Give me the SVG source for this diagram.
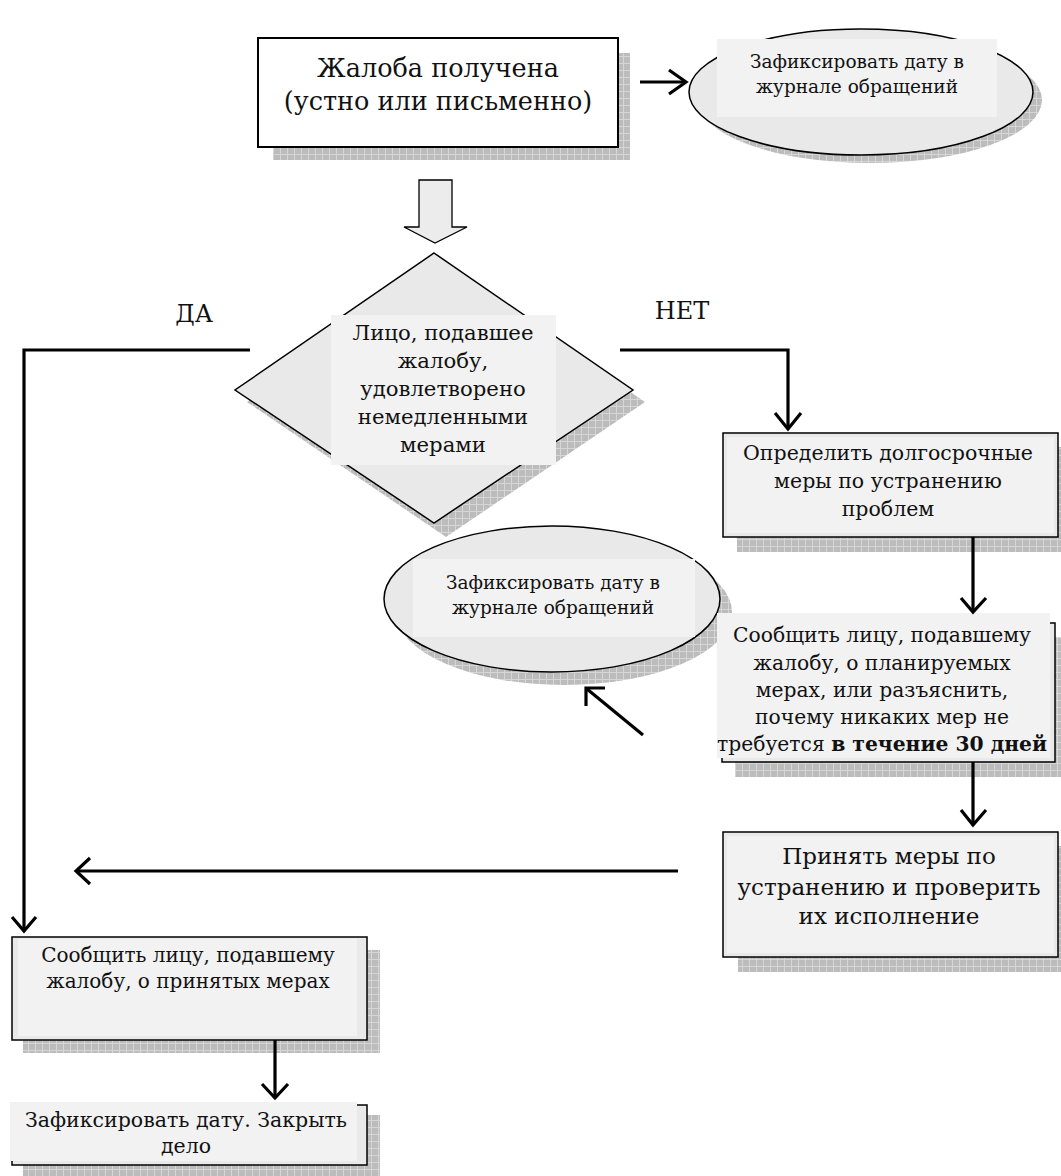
<svg xmlns="http://www.w3.org/2000/svg" width="1061" height="1176" viewBox="0 0 1061 1176">
<style>
.t{font-family:"DejaVu Serif","Liberation Serif",serif;fill:#111;text-anchor:middle}
.box{fill:#e9e9e9;stroke:#000;stroke-width:1.5}
.inner{fill:#f2f2f2}
.sh{fill:url(#hatch)}
.ln{fill:none;stroke:#000;stroke-width:3.2}
.hd{fill:none;stroke:#000;stroke-width:3.2;stroke-linejoin:miter}
</style>
<defs>
<pattern id="hatch" width="7" height="7" patternUnits="userSpaceOnUse">
<rect width="7" height="7" fill="#bcbcbc"/>
<path d="M0 0.5H7M0.5 0V7" stroke="#d6d6d6" stroke-width="1"/>
</pattern>
</defs>
<rect width="1061" height="1176" fill="#fff"/>

<g id="n1">
<rect class="sh" x="273" y="53" width="357" height="107"/>
<rect x="258" y="38" width="360" height="109" fill="#fff" stroke="#000" stroke-width="2"/>
<text class="t" x="438" y="77" font-size="25.5">Жалоба получена</text>
<text class="t" x="438" y="110" font-size="25.5">(устно или письменно)</text>
</g>

<g id="n2">
<ellipse class="sh" cx="870" cy="100" rx="172" ry="63"/>
<ellipse cx="861" cy="92" rx="172" ry="63" fill="#e9e9e9" stroke="#000" stroke-width="1.5"/>
<rect class="inner" x="717" y="39" width="280" height="78"/>
<text class="t" x="857" y="68" font-size="18.5">Зафиксировать дату в</text>
<text class="t" x="857" y="93" font-size="18.5">журнале обращений</text>
</g>

<g id="n3">
<polygon points="419,180 452,180 452,227 467,227 435,243 404,227 419,227" fill="#ececec" stroke="#000" stroke-width="1.3"/>
</g>

<g id="n4">
<polygon class="sh" points="446,265 645,402 446,537 247,402"/>
<polygon points="434,253 633,390 434,523 235,390" fill="#e9e9e9" stroke="#000" stroke-width="1.5"/>
<rect class="inner" x="331" y="315" width="225" height="150"/>
<text class="t" font-size="21.2"><tspan x="443" y="340">Лицо, подавшее</tspan><tspan x="443" y="368">жалобу,</tspan><tspan x="443" y="396">удовлетворено</tspan><tspan x="443" y="424">немедленными</tspan><tspan x="443" y="452">мерами</tspan></text>
</g>

<g id="n5">
<rect class="sh" x="737" y="447" width="330" height="105"/>
<rect class="box" x="723" y="433" width="335" height="104"/>
<rect class="inner" x="727" y="437" width="327" height="96"/>
<text class="t" font-size="20.5"><tspan x="888" y="460">Определить долгосрочные</tspan><tspan x="888" y="488">меры по устранению</tspan><tspan x="888" y="516">проблем</tspan></text>
</g>

<g id="n6">
<ellipse class="sh" cx="564" cy="612" rx="168" ry="73"/>
<ellipse cx="552" cy="599" rx="168" ry="73" fill="#e9e9e9" stroke="#000" stroke-width="1.5"/>
<rect class="inner" x="413" y="559" width="282" height="78"/>
<text class="t" x="553" y="589" font-size="18.5">Зафиксировать дату в</text>
<text class="t" x="553" y="614" font-size="18.5">журнале обращений</text>
</g>

<g id="n7">
<rect class="sh" x="735" y="637" width="330" height="140"/>
<rect class="box" x="722" y="623" width="333" height="139"/>
<rect class="inner" x="717" y="613" width="333" height="145"/>
<text class="t" font-size="20.3"><tspan x="882" y="642">Сообщить лицу, подавшему</tspan><tspan x="882" y="670">жалобу, о планируемых</tspan><tspan x="882" y="697">мерах, или разъяснить,</tspan><tspan x="882" y="724">почему никаких мер не</tspan><tspan x="882" y="751">требуется <tspan font-weight="bold">в течение 30 дней</tspan></tspan></text>
</g>

<g id="n8">
<rect class="sh" x="738" y="846" width="330" height="126"/>
<rect class="box" x="723" y="832" width="335" height="125"/>
<rect class="inner" x="727" y="836" width="327" height="117"/>
<text class="t" font-size="23"><tspan x="889" y="864">Принять меры по</tspan><tspan x="889" y="895">устранению и проверить</tspan><tspan x="889" y="924">их исполнение</tspan></text>
</g>

<g id="n9">
<rect class="sh" x="23" y="950" width="357" height="103"/>
<rect class="box" x="12" y="937" width="355" height="103"/>
<rect class="inner" x="18" y="939" width="339" height="97"/>
<text class="t" font-size="20"><tspan x="188" y="962">Сообщить лицу, подавшему</tspan><tspan x="188" y="988">жалобу, о принятых мерах</tspan></text>
</g>

<g id="n10">
<rect class="sh" x="23" y="1115" width="357" height="70"/>
<rect class="box" x="12" y="1105" width="355" height="60"/>
<rect class="inner" x="10" y="1102" width="347" height="59"/>
<text class="t" font-size="20.5"><tspan x="186" y="1127">Зафиксировать дату. Закрыть</tspan><tspan x="186" y="1153">дело</tspan></text>
</g>

<g id="labels">
<text class="t" x="194" y="322" font-size="24">ДА</text>
<text class="t" x="682" y="319" font-size="24">НЕТ</text>
</g>

<g id="connectors">
<path class="ln" d="M640 82H685"/>
<path class="hd" d="M669 70L686 82L669 94"/>
<path class="ln" d="M250 350H24V931"/>
<path class="hd" d="M12 917L24 931L36 917"/>
<path class="ln" d="M620 350H788V429"/>
<path class="hd" d="M775 413L788 429L801 413"/>
<path class="ln" d="M973 537V611"/>
<path class="hd" d="M961 598L973 612L986 598"/>
<path class="ln" d="M973 762V824"/>
<path class="hd" d="M961 810L973 825L986 810"/>
<path class="ln" d="M678 871H76"/>
<path class="hd" d="M90 858L76 871L90 884"/>
<path class="ln" d="M275 1040V1097"/>
<path class="hd" d="M262 1084L275 1098L288 1084"/>
<path class="ln" d="M643 735L587 689"/>
<path class="hd" d="M605 688H586V706"/>
</g>
</svg>
